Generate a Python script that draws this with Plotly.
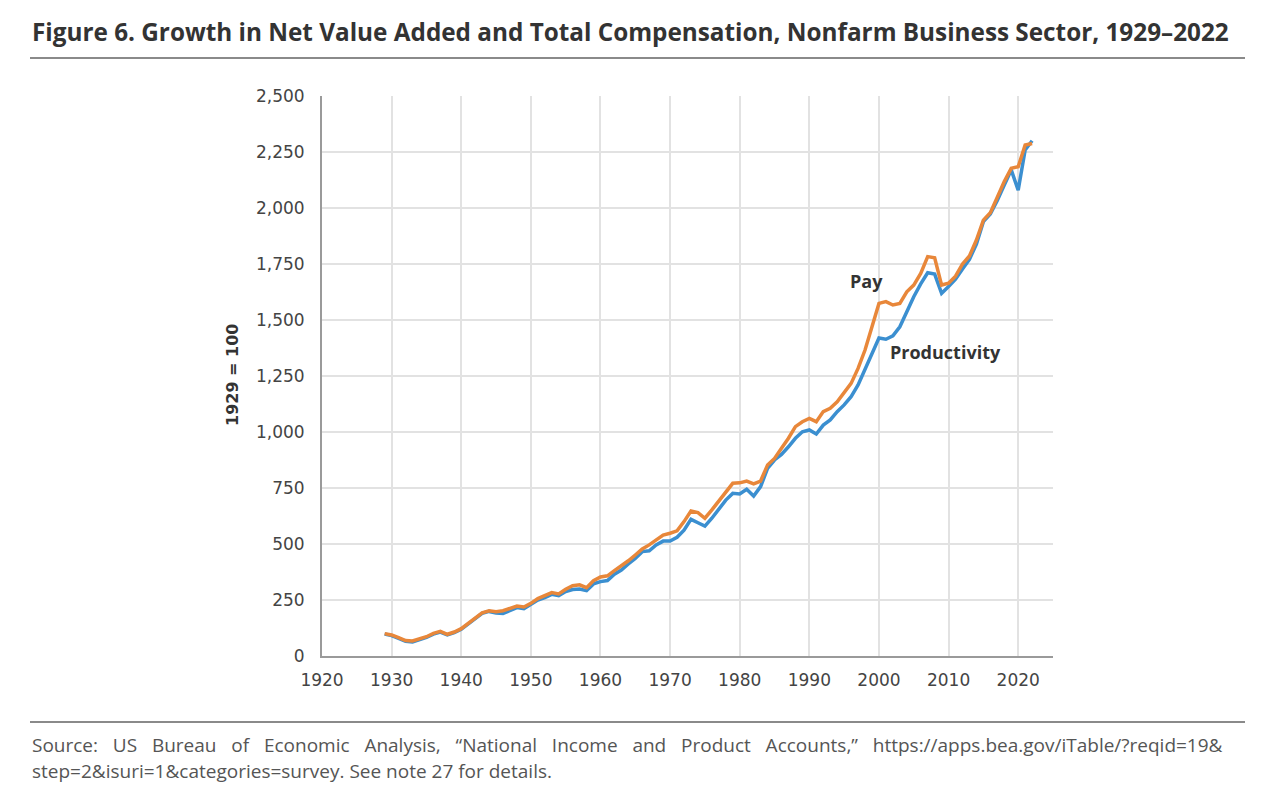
import plotly.graph_objects as go

years = list(range(1929, 2023))

pay = [100, 94, 82, 69, 67, 76, 86, 101, 110, 97, 107, 122, 146, 171, 193, 202, 198, 202, 211, 223,
       219, 235, 256, 268, 283, 277, 298, 314, 318, 305, 336, 353, 358, 381, 402, 425, 451, 478, 496, 518,
       540, 548, 559, 600, 647, 640, 615, 652, 692, 733, 771, 773, 781, 768, 781, 853, 882, 927, 972, 1024,
       1046, 1061, 1046, 1091, 1106, 1135, 1173, 1217, 1284, 1366, 1470, 1574, 1582, 1567, 1574, 1626, 1656, 1708, 1783, 1778,
       1656, 1664, 1696, 1750, 1786, 1857, 1946, 1979, 2048, 2118, 2177, 2184, 2281, 2288]

productivity = [98, 91, 79, 66, 63, 73, 83, 98, 107, 94, 104, 119, 143, 168, 190, 199, 192, 190, 203, 216,
                211, 229, 250, 261, 275, 269, 288, 297, 299, 292, 322, 332, 337, 365, 384, 411, 436, 466, 470, 496,
                513, 513, 530, 562, 610, 595, 580, 615, 655, 696, 726, 723, 744, 714, 756, 838, 875, 900, 934, 972,
                1001, 1009, 991, 1031, 1054, 1091, 1121, 1158, 1210, 1277, 1351, 1420, 1414, 1429, 1470, 1537, 1604, 1661, 1711, 1705,
                1619, 1649, 1682, 1728, 1771, 1839, 1939, 1973, 2033, 2103, 2170, 2080, 2259, 2300]

x_ticks = list(range(1920, 2021, 10))
y_ticks = list(range(0, 2501, 250))

title_text = "Figure 6. Growth in Net Value Added and Total Compensation, Nonfarm Business Sector, 1929–2022"
source_line1 = "Source: US Bureau of Economic Analysis, “National Income and Product Accounts,” https://apps.bea.gov/iTable/?reqid=19&"
source_line2 = "step=2&isuri=1&categories=survey. See note 27 for details."

OFF = 8  # page body margin
W, H = 1274 - 2 * OFF, 802 - 2 * OFF
L, R, T, B = 322, 1053, 96, 656  # plot area in screenshot pixels
pw, ph = R - L, B - T

def px(x):
    return (x - L) / pw

def py(y):
    return (B - y) / ph

fig = go.Figure()
fig.add_trace(go.Scatter(x=years, y=productivity, mode="lines", name="Productivity",
                         line=dict(color="#3b8fd0", width=3.5)))
fig.add_trace(go.Scatter(x=years, y=pay, mode="lines", name="Pay",
                         line=dict(color="#e8873a", width=3.5)))

font_family = "Open Sans, Noto Sans, sans-serif"
tick_family = "DejaVu Sans, sans-serif"

fig.update_layout(
    width=W, height=H,
    margin=dict(l=L - OFF, r=W - (R - OFF), t=T - OFF, b=H - (B - OFF)),
    paper_bgcolor="white", plot_bgcolor="white",
    showlegend=False,
    font=dict(family=font_family, color="#444"),
    xaxis=dict(range=[1920, 2025], tickvals=x_ticks, ticktext=[str(v) for v in x_ticks],
               showgrid=True, gridcolor="#e2e2e2", gridwidth=1.5,
               showline=True, linecolor="#9a9a9a", linewidth=2,
               zeroline=False, ticks="", ticklabelstandoff=8,
               tickfont=dict(size=17, color="#444", family=tick_family)),
    yaxis=dict(range=[0, 2500], tickvals=y_ticks, tickformat=",",
               showgrid=True, gridcolor="#e2e2e2", gridwidth=1.5,
               showline=True, linecolor="#9a9a9a", linewidth=2,
               zeroline=False, ticks="", ticklabelstandoff=12,
               tickfont=dict(size=17, color="#444", family=tick_family)),
)

line1_spaced = source_line1.replace(" ", " \u00a0\u00a0")

annotations = [
    dict(xref="paper", yref="paper", x=px(30), y=py(32), xanchor="left", yanchor="middle",
         text="<b>" + title_text + "</b>", showarrow=False,
         font=dict(size=24.3, color="#333", family=font_family)),
    dict(xref="paper", yref="paper", x=px(232), y=py(375), xanchor="center", yanchor="middle",
         text="<b>1929 = 100</b>", textangle=-90, showarrow=False,
         font=dict(size=16, color="#333", family="DejaVu Sans, sans-serif")),
    dict(xref="paper", yref="paper", x=px(30), y=py(745), xanchor="left", yanchor="middle",
         text=line1_spaced, showarrow=False,
         font=dict(size=19, color="#555", family=font_family)),
    dict(xref="paper", yref="paper", x=px(30), y=py(771), xanchor="left", yanchor="middle",
         text=source_line2, showarrow=False,
         font=dict(size=19, color="#555", family=font_family)),
    dict(x=1998.2, y=1674, text="<b>Pay</b>", showarrow=False,
         font=dict(size=18, color="#333", family=font_family)),
    dict(x=2009.5, y=1357, text="<b>Productivity</b>", showarrow=False,
         font=dict(size=18, color="#333", family=font_family)),
]
fig.update_layout(annotations=annotations)

fig.update_layout(shapes=[
    dict(type="line", xref="paper", yref="paper", x0=px(30), x1=px(1245), y0=py(58), y1=py(58),
         line=dict(color="#8a8a8a", width=2)),
    dict(type="line", xref="paper", yref="paper", x0=px(30), x1=px(1245), y0=py(722), y1=py(722),
         line=dict(color="#8a8a8a", width=2)),
])

fig.write_html("out.html")
